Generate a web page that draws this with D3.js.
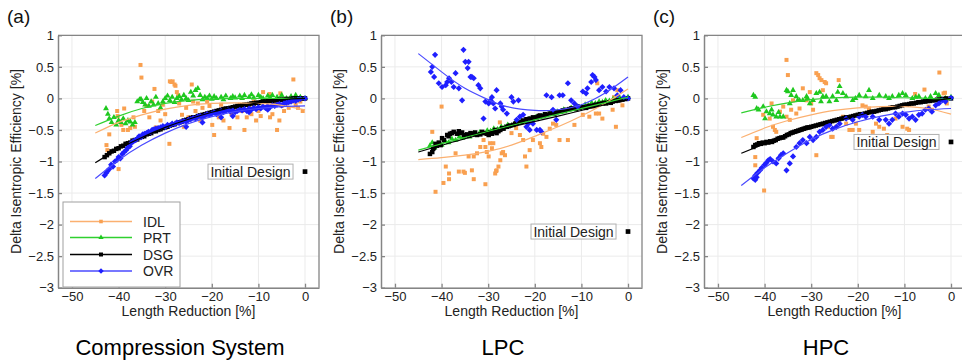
<!DOCTYPE html>
<html><head><meta charset="utf-8">
<script src="https://cdn.jsdelivr.net/npm/d3@7"></script>
<style>body{margin:0;background:#fff}svg{display:block;font-family:"Liberation Sans",Arial,Helvetica,sans-serif}</style>
</head><body><svg id="chart" width="962" height="363"></svg>
<script>
// ---------- labels / ticks ----------
const xTicks=[-50,-40,-30,-20,-10,0];
const yTicks=[1,0.5,0,-0.5,-1,-1.5,-2,-2.5,-3];
const seriesNames=["IDL","PRT","DSG","OVR"];
const panelLetters=["(a)","(b)","(c)"];
const panelTitles=["Compression System","LPC","HPC"];
const initialDesignY=[-1.16,-2.11,-0.69];

// ---------- panel (a) Compression System ----------
const a_IDL=[[-42.6,-0.74],[-42.4,-0.82],[-42,-0.57],[-40.3,-0.2],[-40.2,-0.28],[-40,-1.12],[-39.4,-0.42],[-39,-0.5],[-38.8,-0.16],[-38,-0.5],[-37.5,-0.47],[-36.8,-0.3],[-36.5,-0.45],[-35.3,0.53],[-35.1,0.33],[-34.5,-0.2],[-34,-0.12],[-33.4,-0.3],[-32.8,-0.05],[-32.3,0.15],[-32,-0.46],[-31.5,-0.2],[-31,-0.35],[-30.5,-0.1],[-30,-0.25],[-29.1,-0.72],[-29,0.27],[-28.7,0.26],[-28.4,0.27],[-28,0.22],[-27.8,0.2],[-27.5,0.1],[-27.2,0.05],[-27,-0.08],[-26.4,-0.26],[-26,-0.45],[-25.5,-0.15],[-25,-0.3],[-24.3,0.22],[-24,-0.05],[-23.5,-0.2],[-23,-0.08],[-22.5,-0.35],[-22,-0.15],[-21.5,-0.28],[-21,-0.05],[-20.5,-0.12],[-19.9,-0.42],[-19.5,-0.58],[-19,-0.2],[-18.5,-0.3],[-18,-0.1],[-17.5,-0.35],[-17,-0.18],[-16.2,-0.47],[-15.8,-0.25],[-15,-0.15],[-14.5,-0.3],[-14,-0.1],[-13.5,-0.2],[-13,-0.5],[-12.5,-0.3],[-12,-0.15],[-11.5,-0.25],[-11,-0.05],[-10.5,-0.35],[-10,-0.2],[-9.5,-0.28],[-9,0.1],[-7.6,0.07],[-8,-0.15],[-7.5,-0.3],[-7,-0.25],[-6.5,-0.1],[-6,-0.5],[-5.5,-0.35],[-5.3,0.08],[-5,-0.12],[-4.5,-0.2],[-4,-0.08],[-3.5,-0.15],[-3,-0.05],[-2.5,0.3],[-2,-0.1],[-1.5,-0.15],[-1,-0.05],[-0.5,-0.2]];
const a_PRT=[[-42.7,-0.16],[-42.3,-0.25],[-42,-0.32],[-41.5,-0.38],[-41,-0.3],[-40.5,-0.42],[-40,-0.35],[-39.5,-0.38],[-39,-0.32],[-38.5,-0.4],[-38,-0.35],[-37.5,-0.37],[-37,-0.42],[-36.5,-0.38],[-36,-0.05],[-35.5,-0.02],[-35.2,-0.01],[-34.8,-0.06],[-34.3,-0.1],[-34,0.0],[-33.5,-0.12],[-33,-0.05],[-32.5,-0.1],[-32,0.02],[-31.5,-0.08],[-31,-0.15],[-30.5,-0.05],[-30,0.0],[-29.5,0.04],[-29,-0.03],[-28.5,0.02],[-28,-0.06],[-27.5,0.0],[-27,0.03],[-26.5,-0.02],[-26,0.05],[-25.5,0.0],[-25,-0.03],[-24.5,0.1],[-24,0.04],[-23.5,0.13],[-23,0.16],[-22.5,0.05],[-22,-0.02],[-21.5,0.02],[-21,0.0],[-20.5,0.04],[-20,-0.01],[-19.5,0.03],[-19,0.0],[-18,0.02],[-17.5,-0.02],[-17,0.04],[-16,0.0],[-15.5,0.03],[-15,0.01],[-14,0.04],[-13.5,0.0],[-13,0.05],[-12,0.02],[-11.5,0.06],[-11,0.01],[-10,0.05],[-9.5,0.02],[-9,0.0],[-8,0.04],[-7.5,0.01],[-7,0.05],[-6,0.02],[-5,0.05],[-4,0.0],[-3,0.03],[-2,0.05],[-1,0.02],[0,0.0]];
const a_DSG=[[-43,-0.93],[-42.5,-0.9],[-42,-0.87],[-41.5,-0.84],[-41,-0.83],[-40.5,-0.8],[-40,-0.79],[-39.5,-0.76],[-39,-0.75],[-38.5,-0.72],[-38,-0.71],[-37.5,-0.7],[-37,-0.67],[-36.5,-0.66],[-36,-0.65],[-35.5,-0.62],[-35,-0.61],[-34.5,-0.6],[-34,-0.57],[-33.5,-0.56],[-33,-0.55],[-32.5,-0.52],[-32,-0.52],[-31.5,-0.5],[-31,-0.49],[-30.5,-0.47],[-30,-0.46],[-29.5,-0.45],[-29,-0.43],[-28.5,-0.42],[-28,-0.41],[-27.5,-0.39],[-27,-0.38],[-26.5,-0.37],[-26,-0.35],[-25.5,-0.34],[-25,-0.33],[-24.5,-0.31],[-24,-0.3],[-23.5,-0.3],[-23,-0.28],[-22.5,-0.27],[-22,-0.26],[-21.5,-0.25],[-21,-0.24],[-20.5,-0.23],[-20,-0.22],[-19.5,-0.21],[-19,-0.2],[-18.5,-0.19],[-18,-0.18],[-17.5,-0.17],[-17,-0.16],[-16.5,-0.16],[-16,-0.15],[-15.5,-0.14],[-15,-0.13],[-14.5,-0.12],[-14,-0.12],[-13.5,-0.11],[-13,-0.1],[-12.5,-0.1],[-12,-0.09],[-11.5,-0.08],[-11,-0.08],[-10.5,-0.07],[-10,-0.07],[-9.5,-0.06],[-9,-0.05],[-8.5,-0.05],[-8,-0.04],[-7.5,-0.04],[-7,-0.04],[-6.5,-0.03],[-6,-0.03],[-5.5,-0.02],[-5,-0.02],[-4.5,-0.02],[-4,-0.01],[-3.5,-0.01],[-3,-0.01],[-2.5,0],[-2,0],[-1.5,0],[-1,0],[-0.5,0],[0,0]];
const a_OVR=[[-43,-1.22],[-42.6,-1.18],[-42.4,-1.15],[-42,-1.12],[-41.6,-1.05],[-41.2,-1.08],[-40.8,-1.0],[-40.4,-0.98],[-40,-0.93],[-39.6,-0.95],[-39.2,-0.88],[-38.8,-0.85],[-38.4,-0.82],[-38,-0.78],[-37.6,-0.76],[-37.2,-0.7],[-36.8,-0.68],[-36.4,-0.66],[-36,-0.64],[-35.6,-0.6],[-35.2,-0.62],[-34.8,-0.57],[-34.4,-0.56],[-34,-0.55],[-33.6,-0.53],[-33.2,-0.54],[-32.8,-0.5],[-32.4,-0.49],[-32,-0.48],[-31.5,-0.47],[-31,-0.46],[-30.5,-0.44],[-30,-0.45],[-29.5,-0.42],[-29,-0.43],[-28.5,-0.4],[-28,-0.41],[-27.5,-0.38],[-27,-0.39],[-26.5,-0.37],[-26,-0.36],[-25.5,-0.45],[-25.5,-0.37],[-25,-0.34],[-24.5,-0.33],[-24,-0.31],[-23.5,-0.32],[-23,-0.29],[-22.5,-0.28],[-22,-0.38],[-22,-0.3],[-21.5,-0.27],[-21,-0.25],[-20.5,-0.26],[-20,-0.24],[-19.5,-0.22],[-19,-0.25],[-18.5,-0.23],[-18,-0.3],[-18,-0.2],[-17.5,-0.22],[-17,-0.2],[-16.5,-0.18],[-16,-0.21],[-15.5,-0.28],[-15.5,-0.19],[-15,-0.22],[-14.5,-0.2],[-14,-0.18],[-13.5,-0.19],[-13,-0.17],[-12.5,-0.2],[-12,-0.22],[-12,-0.16],[-11.5,-0.18],[-11,-0.15],[-10.5,-0.17],[-10,-0.14],[-9.5,-0.16],[-9,-0.13],[-8.5,-0.15],[-8,-0.18],[-8,-0.12],[-7.5,-0.14],[-7,-0.11],[-6.5,-0.12],[-6,-0.1],[-5.5,-0.09],[-5,-0.11],[-4.5,-0.08],[-4,-0.07],[-3.5,-0.06],[-3,-0.05],[-2.5,-0.03],[-2,-0.04],[-1.5,-0.02],[-1,-0.01],[0,0]];
const a_fit_IDL=[[-45,-0.55],[-40,-0.38],[-35,-0.26],[-30,-0.17],[-25,-0.11],[-20,-0.08],[-15,-0.07],[-10,-0.08],[-5,-0.11],[0,-0.18]];
const a_fit_PRT=[[-45,-0.43],[-40,-0.28],[-35,-0.16],[-30,-0.08],[-25,-0.03],[-20,-0.01],[-15,0],[-10,0],[-5,0],[0,0]];
const a_fit_DSG=[[-45,-1.02],[-40,-0.8],[-35,-0.62],[-30,-0.46],[-25,-0.33],[-20,-0.22],[-15,-0.13],[-10,-0.07],[-5,-0.02],[0,0]];
const a_fit_OVR=[[-45,-1.27],[-40,-0.98],[-35,-0.74],[-30,-0.55],[-25,-0.4],[-20,-0.29],[-15,-0.21],[-10,-0.16],[-5,-0.13],[0,-0.12]];

// ---------- panel (b) LPC ----------
const b_IDL=[[-42,-0.53],[-40,-0.13],[-39.1,-1.08],[-38.4,-1.19],[-37,-0.87],[-36.3,-1.16],[-35.3,-1.16],[-34.2,-0.92],[-33.5,-1.14],[-33.1,-0.92],[-32.4,-0.87],[-31.7,-0.77],[-31,-0.66],[-30.6,-0.77],[-30.3,-0.85],[-29.9,-0.92],[-29.6,-0.71],[-29.2,-0.79],[-28.9,-0.71],[-28.5,-1.19],[-28.2,-1.14],[-27.8,-1.08],[-27.4,-0.98],[-27.1,-0.87],[-26.8,-0.85],[-26.4,-0.9],[-41.3,-1.48],[-39.6,-1.34],[-38.4,-1.28],[-35,-1.18],[-33.1,-1.28],[-30.6,-1.36],[-28.3,-1.15],[-27.5,-0.38],[-25,-0.55],[-24,-0.47],[-23.2,-0.58],[-22.5,-0.66],[-22.1,-0.92],[-21.8,-1.08],[-21.1,-0.82],[-20.4,-0.66],[-18.9,-0.71],[-18.6,-0.77],[-18.2,-0.56],[-17.5,-0.61],[-16.8,-0.48],[-16.1,-0.4],[-15.4,-0.42],[-14.7,-0.66],[-12.9,-0.66],[-11.5,-0.42],[-9.7,-0.26],[-9,-0.13],[-8.3,-0.29],[-7.6,-0.13],[-6.9,-0.24],[-6.6,0.24],[-6.2,-0.24],[-5.5,-0.32],[-3.3,-0.18],[-3,0.02],[-2.6,-0.45],[-2.3,0.13],[-1.6,-0.03],[-1.2,-0.11]];
const b_PRT=[[-42.5,-0.75],[-42,-0.7],[-41.5,-0.78],[-40.8,-0.72],[-40,-0.74],[-39.2,-0.68],[-38.5,-0.7],[-37.8,-0.64],[-37,-0.66],[-36.2,-0.61],[-35.5,-0.63],[-34.8,-0.59],[-34,-0.61],[-33.2,-0.56],[-32.5,-0.58],[-31.8,-0.54],[-31,-0.55],[-30.2,-0.51],[-29.5,-0.52],[-28.8,-0.48],[-28,-0.49],[-27.2,-0.45],[-26.5,-0.46],[-25.8,-0.42],[-25,-0.43],[-24.2,-0.39],[-23.5,-0.39],[-22.8,-0.36],[-22,-0.36],[-21.2,-0.33],[-20.5,-0.33],[-19.8,-0.3],[-19,-0.3],[-18.2,-0.27],[-17.5,-0.27],[-16.8,-0.24],[-16,-0.25],[-15.2,-0.21],[-14.5,-0.22],[-13.8,-0.18],[-13,-0.19],[-12.2,-0.15],[-11.5,-0.16],[-10.8,-0.13],[-10,-0.14],[-9.2,-0.1],[-8.5,-0.11],[-7.8,-0.07],[-7,-0.08],[-6.2,-0.05],[-5.5,-0.06],[-4.8,-0.03],[-4,-0.04],[-3.2,-0.01],[-2.5,-0.02],[-1.8,0.01],[-1,0],[0,0.02]];
const b_DSG=[[-42.5,-0.88],[-42,-0.85],[-41.8,-0.8],[-41.6,-0.78],[-41.3,-0.72],[-41,-0.75],[-40.6,-0.7],[-40.2,-0.74],[-39.9,-0.63],[-39.5,-0.66],[-38.8,-0.58],[-38.5,-0.6],[-38.2,-0.56],[-37.8,-0.55],[-37.4,-0.53],[-36.7,-0.56],[-36.3,-0.52],[-36,-0.55],[-35.6,-0.54],[-35.2,-0.58],[-34.5,-0.57],[-34.1,-0.59],[-33.8,-0.55],[-33.1,-0.56],[-32.8,-0.54],[-32.4,-0.58],[-31.7,-0.57],[-31.3,-0.53],[-31,-0.55],[-30.3,-0.56],[-29.9,-0.58],[-29.6,-0.54],[-29.2,-0.56],[-28.9,-0.53],[-28.5,-0.5],[-28.2,-0.55],[-27.8,-0.52],[-27.4,-0.5],[-27,-0.47],[-26.7,-0.48],[-26,-0.45],[-25.6,-0.44],[-25.3,-0.43],[-24.6,-0.42],[-24.2,-0.4],[-23.9,-0.39],[-23.2,-0.38],[-22.8,-0.37],[-22.5,-0.35],[-21.8,-0.33],[-21.1,-0.32],[-20.8,-0.33],[-20.4,-0.3],[-19.6,-0.3],[-19.2,-0.28],[-18.9,-0.27],[-18.2,-0.28],[-17.8,-0.25],[-17.5,-0.26],[-16.8,-0.24],[-16.1,-0.22],[-15.8,-0.24],[-15.4,-0.22],[-14.7,-0.21],[-14,-0.19],[-13.6,-0.2],[-13.3,-0.18],[-12.6,-0.17],[-12.2,-0.16],[-11.8,-0.16],[-11.1,-0.17],[-10.8,-0.13],[-10.4,-0.15],[-9.7,-0.14],[-9,-0.15],[-8.7,-0.13],[-8.3,-0.12],[-7.6,-0.12],[-7.2,-0.11],[-6.9,-0.1],[-6.2,-0.09],[-5.5,-0.08],[-5.1,-0.07],[-4.7,-0.08],[-4,-0.06],[-3.7,-0.07],[-3.3,-0.05],[-2.6,-0.04],[-2.2,-0.03],[-1.9,-0.03],[-1.2,-0.02],[-0.6,-0.01],[0,0]];
const b_OVR=[[-42.3,0.42],[-42,0.5],[-41.4,0.69],[-41.6,0.34],[-40.6,0.24],[-39.9,0.18],[-39.1,0.21],[-38.8,0.26],[-38.4,0.32],[-37.9,0.26],[-37.4,0.18],[-37,0.4],[-36.3,0.16],[-35.6,-0.03],[-35.3,0.77],[-34.9,0.58],[-34.2,0.58],[-34.4,0.48],[-33.8,0.34],[-33.5,0.34],[-33.1,0.32],[-32.1,0.21],[-31.7,0.16],[-31,-0.32],[-30.6,-0.05],[-29.9,-0.08],[-29.5,-0.03],[-29.2,0.02],[-28.9,-0.08],[-28.5,-0.16],[-28.2,0.13],[-27.4,-0.08],[-27.1,-0.13],[-26.8,-0.18],[-26,-0.24],[-25,0.02],[-24.6,-0.05],[-23.9,-0.34],[-23.5,-0.03],[-23.2,-0.29],[-22.5,-0.26],[-21.8,-0.45],[-21.4,-0.4],[-21.1,-0.5],[-20.4,-0.4],[-19.6,-0.5],[-18.9,-0.5],[-18.6,-0.53],[-17.5,0.05],[-16.4,0.02],[-16.1,-0.18],[-15.4,-0.34],[-14.7,0.05],[-14,0.05],[-12.9,0.24],[-12.2,-0.03],[-11.5,-0.08],[-10.8,-0.13],[-9.7,0.11],[-9,0.08],[-8.7,0.16],[-7.9,0.26],[-7.6,0.37],[-7.2,0.34],[-6.9,0.29],[-6.2,0.13],[-5.5,0.18],[-4.7,0.11],[-4,0.18],[-3,0.16],[-2.3,0.05],[-1.6,0.13],[-0.9,0.02],[0,0]];
const b_fit_IDL=[[-45,-0.97],[-40,-0.94],[-35,-0.9],[-30,-0.84],[-25,-0.74],[-20,-0.6],[-15,-0.45],[-10,-0.28],[-5,-0.08],[0,0.15]];
const b_fit_PRT=[[-45,-0.82],[-35,-0.62],[-25,-0.43],[-15,-0.25],[-5,-0.07],[0,0.02]];
const b_fit_DSG=[[-45,-0.85],[-35,-0.64],[-25,-0.45],[-15,-0.28],[-5,-0.1],[0,-0.02]];
const b_fit_OVR=[[-45,0.71],[-40,0.42],[-35,0.16],[-30,-0.02],[-26,-0.13],[-20,-0.19],[-15,-0.18],[-10,-0.1],[-5,0.08],[0,0.34]];

// ---------- panel (c) HPC ----------
const c_IDL=[[-35.3,0.61],[-35,0.37],[-42,-0.93],[-42,-1.06],[-41.7,-0.63],[-40.3,-0.26],[-40.1,-1.46],[-38.5,-0.08],[-38.9,-0.32],[-38.2,-0.45],[-37.8,-0.5],[-37.5,-0.53],[-36.7,-0.21],[-36,-0.13],[-35.3,-0.29],[-34.6,-0.34],[-34.3,-0.18],[-33.9,-0.03],[-33.2,-0.24],[-32.5,-0.16],[-31.8,0.16],[-31,-0.03],[-30.3,0.1],[-30,-0.08],[-29.6,-0.18],[-28.9,0.4],[-28.9,-0.9],[-28.5,0.37],[-28.2,0.32],[-27.8,0.29],[-27.5,0.13],[-27.1,0.26],[-26.8,0.24],[-26.4,-0.45],[-25.7,-0.61],[-25.4,-0.61],[-24.6,-0.45],[-24.1,0.29],[-23.2,-0.29],[-22.5,-0.4],[-21.8,-0.5],[-21.1,-0.5],[-20.4,-0.4],[-19.7,-0.5],[-19,-0.11],[-18.3,-0.13],[-17.6,-0.16],[-16.8,-0.53],[-16.1,-0.4],[-15.4,-0.45],[-14.4,-0.48],[-13.7,-0.58],[-12.9,-0.61],[-11.9,-0.32],[-10.4,-0.45],[-9.4,-0.48],[-9,-0.5],[-7.7,0.07],[-5.7,0.14],[-4.8,-0.13],[-4.1,-0.18],[-2.5,0.41],[-1.6,0.08],[-1.3,0.09],[-1.2,-0.03],[-0.9,-0.08]];
const c_PRT=[[-42.4,0.05],[-42,0.02],[-41.7,-0.16],[-41.3,-0.18],[-40.3,-0.13],[-39.9,-0.32],[-39.6,-0.21],[-38.9,-0.24],[-38.5,-0.18],[-38.2,-0.26],[-37.5,-0.29],[-37,-0.22],[-36.7,-0.29],[-36,-0.29],[-35.3,0.13],[-35,0.11],[-34.6,-0.08],[-34.3,0.05],[-33.9,0.13],[-33.2,0.03],[-32.9,-0.03],[-32.5,-0.03],[-31.8,-0.03],[-31,0.03],[-30.8,0.0],[-30.3,-0.08],[-29.6,-0.03],[-28.9,0.08],[-28.2,0.1],[-27.9,-0.05],[-27.5,0.03],[-26.8,0.03],[-26.1,-0.05],[-25.4,0.03],[-24.6,-0.03],[-24.3,0.1],[-23.9,0.19],[-23.2,0.08],[-22.5,0.03],[-21.1,-0.03],[-20.5,0.0],[-19.7,0.05],[-18.3,0.03],[-17.6,0.13],[-16.8,0.0],[-15.4,0.05],[-14,0.03],[-13.3,0.0],[-12.6,0.03],[-11.2,0.05],[-10.4,0.08],[-9.7,0.05],[-8.3,0.0],[-7.6,0.02],[-6.9,0.03],[-5.5,0.0],[-4.4,0.03],[-3.3,0.08],[-2.6,0.05],[-1.2,0.0],[0,0.02]];
const c_DSG=[[-42.4,-0.77],[-42,-0.74],[-41.6,-0.73],[-41.2,-0.71],[-40.8,-0.72],[-40.4,-0.7],[-40,-0.71],[-39.6,-0.69],[-39.2,-0.7],[-38.8,-0.68],[-38.4,-0.69],[-38,-0.67],[-37.6,-0.66],[-37.2,-0.64],[-36.8,-0.63],[-36.4,-0.62],[-36,-0.62],[-35.6,-0.6],[-35.2,-0.58],[-34.8,-0.57],[-34.4,-0.55],[-34,-0.54],[-33.6,-0.53],[-33.2,-0.52],[-32.8,-0.51],[-32.4,-0.5],[-32,-0.49],[-31.6,-0.48],[-31.2,-0.47],[-30.8,-0.46],[-30.4,-0.46],[-30,-0.45],[-29.5,-0.44],[-29,-0.43],[-28.5,-0.42],[-28,-0.41],[-27.5,-0.4],[-27,-0.39],[-26.5,-0.38],[-26,-0.37],[-25.5,-0.36],[-25,-0.35],[-24.5,-0.34],[-24,-0.33],[-23.5,-0.32],[-23,-0.31],[-22.5,-0.3],[-22,-0.3],[-21.5,-0.29],[-21,-0.28],[-20.5,-0.27],[-20,-0.26],[-19.5,-0.25],[-19,-0.25],[-18.5,-0.24],[-18,-0.23],[-17.5,-0.22],[-17,-0.21],[-16.5,-0.21],[-16,-0.2],[-15.5,-0.19],[-15,-0.18],[-14.5,-0.17],[-14,-0.17],[-13.5,-0.16],[-13,-0.15],[-12.5,-0.14],[-12,-0.14],[-11.5,-0.13],[-11,-0.12],[-10.5,-0.11],[-10,-0.1],[-9.5,-0.1],[-9,-0.09],[-8.5,-0.08],[-8,-0.08],[-7.5,-0.07],[-7,-0.06],[-6.5,-0.06],[-6,-0.05],[-5.5,-0.05],[-5,-0.04],[-4.5,-0.04],[-4,-0.03],[-3.5,-0.03],[-3,-0.02],[-2.5,-0.02],[-2,-0.01],[-1.5,-0.01],[-1,0],[0,0]];
const c_OVR=[[-42.4,-1.27],[-42,-1.22],[-42,-1.29],[-41.7,-1.25],[-41.5,-1.18],[-41,-1.14],[-40.6,-1.1],[-40,-1.05],[-39.6,-1.02],[-39.2,-0.98],[-38.8,-0.96],[-38.2,-1.0],[-37.5,-1.03],[-37,-0.95],[-36.5,-0.9],[-36,-0.87],[-35.3,-1.14],[-34.6,-1.03],[-33.9,-0.92],[-33.2,-0.77],[-32.5,-0.71],[-31.8,-0.66],[-31,-0.71],[-30.3,-0.61],[-29.6,-0.66],[-28.9,-0.61],[-28.2,-0.53],[-27.5,-0.5],[-26.8,-0.45],[-26.1,-0.42],[-25.4,-0.48],[-24.6,-0.45],[-23.9,-0.4],[-22.5,-0.32],[-21.1,-0.34],[-19.7,-0.29],[-19,-0.26],[-18.3,-0.29],[-16.8,-0.29],[-15.4,-0.34],[-14,-0.34],[-13.3,-0.4],[-12.6,-0.34],[-11.9,-0.24],[-11.2,-0.29],[-10.4,-0.24],[-9.7,-0.26],[-9,-0.32],[-8.3,-0.29],[-7.6,-0.34],[-6.9,-0.26],[-6.2,-0.24],[-5.5,-0.18],[-4.8,-0.16],[-4.1,-0.21],[-3.3,-0.11],[-2.6,-0.08],[-1.9,-0.03],[-1.2,-0.05],[0,0.01]];
const c_fit_IDL=[[-45,-0.62],[-40,-0.47],[-35,-0.35],[-30,-0.26],[-25,-0.19],[-20,-0.15],[-15,-0.13],[-10,-0.13],[-5,-0.16],[0,-0.25]];
const c_fit_PRT=[[-45,-0.23],[-40,-0.14],[-35,-0.07],[-30,-0.02],[-25,0.01],[-20,0.02],[-15,0.02],[-10,0.01],[-5,0],[0,-0.02]];
const c_fit_DSG=[[-45,-0.87],[-40,-0.72],[-35,-0.59],[-30,-0.47],[-25,-0.36],[-20,-0.27],[-15,-0.18],[-10,-0.11],[-5,-0.05],[0,0]];
const c_fit_OVR=[[-45,-1.38],[-40,-1.1],[-35,-0.86],[-30,-0.65],[-25,-0.49],[-20,-0.37],[-15,-0.28],[-10,-0.22],[-5,-0.18],[0,-0.16]];

// ---------- assemble ----------
const panelPoints=[[a_IDL,a_PRT,a_DSG,a_OVR],[b_IDL,b_PRT,b_DSG,b_OVR],[c_IDL,c_PRT,c_DSG,c_OVR]];
const panelFits=[[a_fit_IDL,a_fit_PRT,a_fit_DSG,a_fit_OVR],[b_fit_IDL,b_fit_PRT,b_fit_DSG,b_fit_OVR],[c_fit_IDL,c_fit_PRT,c_fit_DSG,c_fit_OVR]];

// ---------- style ----------
const style={
  IDL:{color:"#f9a050",line:"#fbb070",sym:d3.symbolSquare,size:16,rot:0},
  PRT:{color:"#1ec81e",line:"#2fd02f",sym:d3.symbolTriangle,size:15,rot:0},
  DSG:{color:"#000000",line:"#000000",sym:d3.symbolSquare,size:20,rot:0},
  OVR:{color:"#1f1fff",line:"#4a4aff",sym:d3.symbolSquare,size:19,rot:45}
};
const axisColor="#858585", gridColor="#ebebeb", textColor="#222";
const lefts=[58,381,704], W=261, plotTop=35.3, plotBottom=287.7;

const svg=d3.select("#chart");
const fmt=t=>(t<0?"\u2212":"")+Math.abs(t);

lefts.forEach((L,pi)=>{
  const x=d3.scaleLinear().domain([-53,3]).range([L,L+W]);
  const y=d3.scaleLinear().domain([-3,1]).range([plotBottom,plotTop]);
  const g=svg.append("g");
  // grid
  g.append("g").selectAll("line").data(xTicks).join("line").attr("x1",d=>x(d)).attr("x2",d=>x(d)).attr("y1",plotTop).attr("y2",plotBottom).attr("stroke",gridColor).attr("stroke-width",1);
  g.append("g").selectAll("line").data(yTicks).join("line").attr("y1",d=>y(d)).attr("y2",d=>y(d)).attr("x1",L).attr("x2",L+W).attr("stroke",gridColor).attr("stroke-width",1);
  // box top/right
  g.append("path").attr("d",`M${L},${plotTop}H${L+W}V${plotBottom}`).attr("fill","none").attr("stroke",axisColor).attr("stroke-width",1.3);
  // axes
  const ax=g.append("g").attr("transform",`translate(0,${plotBottom})`).call(d3.axisBottom(x).tickValues(xTicks).tickFormat(fmt).tickSize(-4).tickSizeOuter(0).tickPadding(4.5));
  const ay=g.append("g").attr("transform",`translate(${L},0)`).call(d3.axisLeft(y).tickValues(yTicks).tickFormat(fmt).tickSize(-4).tickSizeOuter(0).tickPadding(4));
  [ax,ay].forEach(a=>{a.select(".domain").attr("stroke",axisColor).attr("stroke-width",1.5);a.selectAll(".tick line").attr("stroke",axisColor).attr("stroke-width",1.3);a.selectAll("text").attr("fill",textColor).style("font-size","13px").style("font-family","Liberation Sans, Arial, sans-serif");});

  // points
  const pts=panelPoints[pi];
  seriesNames.forEach((s,si)=>{
    const st=style[s];
    g.append("g").selectAll("path").data(pts[si]).join("path")
      .attr("transform",d=>`translate(${x(d[0])},${y(d[1])}) rotate(${st.rot})`)
      .attr("d",d3.symbol(st.sym,st.size)).attr("fill",st.color);
  });
  // fit lines
  const fits=panelFits[pi];
  const line=d3.line().x(d=>x(d[0])).y(d=>y(d[1])).curve(d3.curveNatural);
  seriesNames.forEach((s,si)=>{
    g.append("path").datum(fits[si]).attr("d",line).attr("fill","none").attr("stroke",style[s].line).attr("stroke-width",1.2);
  });

  // initial design annotation
  const mx=x(0), my=y(initialDesignY[pi]);
  g.append("rect").attr("x",mx-97).attr("y",my-7.5).attr("width",85).attr("height",15).attr("fill","#fff").attr("stroke","#b0b0b0").attr("stroke-width",1);
  g.append("text").attr("x",mx-54.5).attr("y",my+5).attr("text-anchor","middle").attr("fill",textColor).style("font-size","14px").text("Initial Design");
  g.append("path").attr("transform",`translate(${mx},${my})`).attr("d",d3.symbol(d3.symbolSquare,22)).attr("fill","#000");

  // labels
  svg.append("text").attr("x",L-51).attr("y",23).attr("fill","#111").style("font-size","19px").text(panelLetters[pi]);
  svg.append("text").attr("transform",`translate(${L-37},${(plotTop+plotBottom)/2}) rotate(-90)`).attr("text-anchor","middle").attr("fill",textColor).style("font-size","14px").text("Delta Isentropic Efficiency [%]");
  svg.append("text").attr("x",L+W/2).attr("y",316).attr("text-anchor","middle").attr("fill",textColor).style("font-size","14px").text("Length Reduction [%]");
  svg.append("text").attr("x",L+122).attr("y",355).attr("text-anchor","middle").attr("fill","#000").style("font-size","22px").text(panelTitles[pi]);

  // legend (panel a)
  if(pi===0){
    const lg=svg.append("g");
    lg.append("rect").attr("x",L+5).attr("y",202).attr("width",117).attr("height",85).attr("fill","#fff").attr("stroke","#a0a0a0").attr("stroke-width",1);
    const rows=[221.5,237.5,254.5,271];
    seriesNames.forEach((s,si)=>{
      const st=style[s];
      lg.append("line").attr("x1",L+12).attr("x2",L+74).attr("y1",rows[si]).attr("y2",rows[si]).attr("stroke",st.line).attr("stroke-width",1.3);
      lg.append("path").attr("transform",`translate(${L+43},${rows[si]}) rotate(${st.rot})`).attr("d",d3.symbol(st.sym,st.size*0.8)).attr("fill",st.color);
      lg.append("text").attr("x",L+85).attr("y",rows[si]+5).attr("fill",textColor).style("font-size","14px").text(s);
    });
  }
});
</script></body></html>
